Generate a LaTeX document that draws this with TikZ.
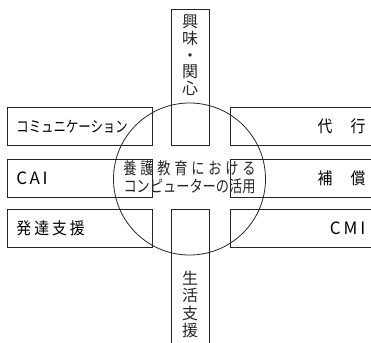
\documentclass[tikz,border=0pt]{standalone}
\usepackage{fontspec}
\setmainfont{Noto Sans CJK JP}
\begin{document}
\begin{tikzpicture}[x=1pt,y=-1pt,
  ln/.style={draw=black!85,line width=0.8pt},
  lbox/.style={ln,rectangle,inner xsep=9pt,inner ysep=0pt,text width=127pt,minimum height=38pt,align=left,anchor=north west},
  rbox/.style={ln,rectangle,inner xsep=15pt,inner ysep=0pt,text width=120pt,minimum height=38pt,align=right,anchor=north west},
  vbox/.style={ln,rectangle,inner sep=0pt,minimum width=38pt,anchor=north west},
  txt/.style={inner sep=0pt,text=black!85}]
\useasboundingbox (0,0) rectangle (371,342);
\clip (0,0) rectangle (371,342);
% vertical boxes
\node[vbox,minimum height=136pt] (vt) at (171,9) {};
\node[vbox,minimum height=141pt] (vb) at (171,209) {};
% left boxes
\node[lbox,font=\fontsize{15.5}{17}\selectfont\addfontfeature{FakeStretch=0.8}] (l1) at (7,107) {コミュニケーション};
\node[lbox,font=\fontsize{17}{19}\selectfont] (l2) at (7,159) {C\hspace{2.5pt}A\hspace{2.5pt}I};
\node[lbox,font=\fontsize{16.5}{18}\selectfont\addfontfeature{FakeStretch=0.9}] (l3) at (7,209) {発\hspace{3pt}達\hspace{3pt}支\hspace{3pt}援};
% right boxes
\node[rbox,font=\fontsize{16.5}{18}\selectfont\addfontfeature{FakeStretch=0.9}] (r1) at (230,107) {代\hspace{18pt}行};
\node[rbox,font=\fontsize{16.5}{18}\selectfont\addfontfeature{FakeStretch=0.9}] (r2) at (230,159) {補\hspace{18pt}償};
\node[rbox,font=\fontsize{17}{19}\selectfont] (r3) at (230,209) {C\hspace{3pt}M\hspace{3pt}I};
% circle
\node[ln,circle,minimum size=152pt,inner sep=0pt] (c) at (189.5,179) {};
\node[txt,align=center,font=\fontsize{16.5}{18.5}\selectfont\addfontfeature{FakeStretch=0.8}] (ct) at (189.5,177.5)
  {養\hspace{3.8pt}護\hspace{3.8pt}教\hspace{3.8pt}育\hspace{3.8pt}に\hspace{3.8pt}お\hspace{3.8pt}け\hspace{3.8pt}る\\コンピューターの活用};
% vertical texts
\node[txt,align=center,font=\fontsize{16}{16.8}\selectfont,anchor=north] (vtt) at (190,14)
  {興\\味\\・\\関\\心};
\node[txt,align=center,font=\fontsize{16}{17.3}\selectfont,anchor=north] (vbt) at (190,271)
  {生\\活\\支\\援};
\end{tikzpicture}
\end{document}
